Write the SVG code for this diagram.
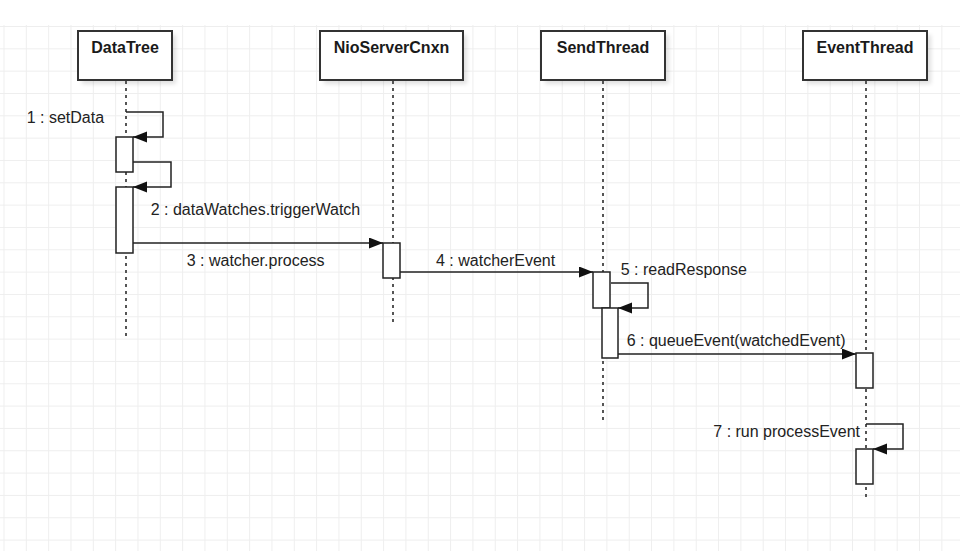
<svg xmlns="http://www.w3.org/2000/svg" width="973" height="551" viewBox="0 0 973 551">
  <style>
    .box { fill: #ffffff; stroke: #333333; stroke-width: 2; }
    .shadow { fill: #000000; opacity: 0.12; }
    .title { font-family: "Liberation Sans", Arial, sans-serif; font-size: 16px; font-weight: bold; fill: #1a1a1a; text-anchor: middle; }
    .label { font-family: "Liberation Sans", Arial, sans-serif; font-size: 16px; fill: #222222; }
    .life { stroke: #555555; stroke-width: 2; stroke-dasharray: 3 4; fill: none; }
    .act { fill: #ffffff; stroke: #222222; stroke-width: 1.5; }
    .msg { fill: none; stroke: #222222; stroke-width: 1.5; marker-end: url(#arrow); }
  </style>
  <defs>
    <pattern id="grid" patternUnits="userSpaceOnUse" x="3.5" y="26" width="22.33" height="22.33">
      <path d="M0.5,0 V22.33 M0,0.5 H22.33" stroke="#eeeeee" stroke-width="1" fill="none"/>
    </pattern>
    <marker id="arrow" markerUnits="userSpaceOnUse" markerWidth="15" markerHeight="12" refX="14" refY="5.5" orient="auto">
      <path d="M0,0 L14,5.5 L0,11 z" fill="#111111"/>
    </marker>
    <filter id="blur" x="-20%" y="-20%" width="140%" height="140%">
      <feGaussianBlur stdDeviation="2"/>
    </filter>
  </defs>

  <rect x="0" y="0" width="973" height="551" fill="#ffffff"/>
  <rect x="0" y="25" width="960" height="526" fill="url(#grid)"/>

  <g id="DataTree">
    <rect class="shadow" x="82" y="35" width="94" height="49" filter="url(#blur)"/>
    <rect class="box" x="78" y="31" width="94" height="49"/>
    <text class="title" x="125" y="53">DataTree</text>
    <line class="life" x1="126" y1="81" x2="126" y2="340"/>
    <rect class="act" x="116" y="137" width="17" height="35"/>
    <rect class="act" x="116" y="187" width="17" height="66"/>
  </g>

  <g id="NioServerCnxn">
    <rect class="shadow" x="324" y="35" width="143" height="49" filter="url(#blur)"/>
    <rect class="box" x="320" y="31" width="143" height="49"/>
    <text class="title" x="391.5" y="53">NioServerCnxn</text>
    <line class="life" x1="393" y1="81" x2="393" y2="326"/>
    <rect class="act" x="383" y="243" width="17" height="35"/>
  </g>

  <g id="SendThread">
    <rect class="shadow" x="545" y="35" width="124" height="49" filter="url(#blur)"/>
    <rect class="box" x="541" y="31" width="124" height="49"/>
    <text class="title" x="603" y="53">SendThread</text>
    <line class="life" x1="603" y1="81" x2="603" y2="423"/>
    <rect class="act" x="593" y="272" width="17" height="36"/>
    <rect class="act" x="602" y="308" width="16" height="50"/>
  </g>

  <g id="EventThread">
    <rect class="shadow" x="807" y="35" width="124" height="49" filter="url(#blur)"/>
    <rect class="box" x="803" y="31" width="124" height="49"/>
    <text class="title" x="865" y="53">EventThread</text>
    <line class="life" x1="866" y1="81" x2="866" y2="500"/>
    <rect class="act" x="856" y="353" width="17" height="35"/>
    <rect class="act" x="856" y="449" width="17" height="35"/>
  </g>

  <g id="connectors">
    <path class="msg" d="M126,112 H163 V137 H133"/>
    <path class="msg" d="M133,162 H171 V187 H133"/>
    <path class="msg" d="M133,243 H383"/>
    <path class="msg" d="M400,272 H593"/>
    <path class="msg" d="M611,283 H648 V308 H618"/>
    <path class="msg" d="M618,354 H856"/>
    <path class="msg" d="M866,424 H903 V449 H873"/>
    <text class="label" x="26.7" y="123">1 : setData</text>
    <text class="label" x="150.7" y="215">2 : dataWatches.triggerWatch</text>
    <text class="label" x="186.7" y="266">3 : watcher.process</text>
    <text class="label" x="436" y="266">4 : watcherEvent</text>
    <text class="label" x="620.7" y="275">5 : readResponse</text>
    <text class="label" x="626.7" y="346">6 : queueEvent(watchedEvent)</text>
    <text class="label" x="713.3" y="437">7 : run processEvent</text>
  </g>
</svg>
